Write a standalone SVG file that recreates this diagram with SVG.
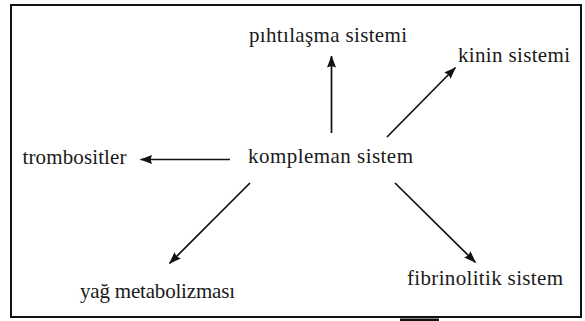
<svg xmlns="http://www.w3.org/2000/svg" width="585" height="321" viewBox="0 0 585 321">
<style>
  .lbl { font-family: "Liberation Serif", "Times New Roman", serif; font-size: 21px; fill: #1a1a1a; }
  .conn { stroke: #111; stroke-width: 1.7; fill: none; marker-end: url(#ah); }
  .frame { fill: #fff; stroke: #111; stroke-width: 2; }
</style>
<defs>
  <marker id="ah" markerUnits="userSpaceOnUse" markerWidth="12" markerHeight="10" refX="11.5" refY="5" orient="auto" viewBox="0 0 12 10">
    <path d="M0,0.5 L12,5 L0,9.5 L1.5,5 z" fill="#111"/>
  </marker>
</defs>
<rect x="0" y="0" width="585" height="321" fill="#fff"/>
<rect class="frame" x="11" y="5" width="570" height="312"/>
<rect x="400" y="318.5" width="39" height="2.5" fill="#111"/>
<g id="connectors">
  <line class="conn" x1="331.5" y1="133" x2="331.5" y2="56"/>
  <line class="conn" x1="387" y1="137" x2="455.5" y2="67.5"/>
  <line class="conn" x1="230" y1="159.5" x2="140.5" y2="159.5"/>
  <line class="conn" x1="250" y1="183" x2="169.5" y2="263.5"/>
  <line class="conn" x1="395" y1="183" x2="475.5" y2="262.5"/>
</g>
<g id="kompleman"><text class="lbl" x="248" y="163" textLength="165" lengthAdjust="spacing">kompleman sistem</text></g>
<g id="pihtilasma"><text class="lbl" x="249" y="42" textLength="158" lengthAdjust="spacing">pıhtılaşma sistemi</text></g>
<g id="kinin"><text class="lbl" x="458" y="62" textLength="112" lengthAdjust="spacing">kinin sistemi</text></g>
<g id="trombositler"><text class="lbl" x="22.5" y="164" textLength="104" lengthAdjust="spacing">trombositler</text></g>
<g id="yag"><text class="lbl" x="80" y="298" textLength="155" lengthAdjust="spacing">yağ metabolizması</text></g>
<g id="fibrinolitik"><text class="lbl" x="407" y="285" textLength="156" lengthAdjust="spacing">fibrinolitik sistem</text></g>
</svg>
